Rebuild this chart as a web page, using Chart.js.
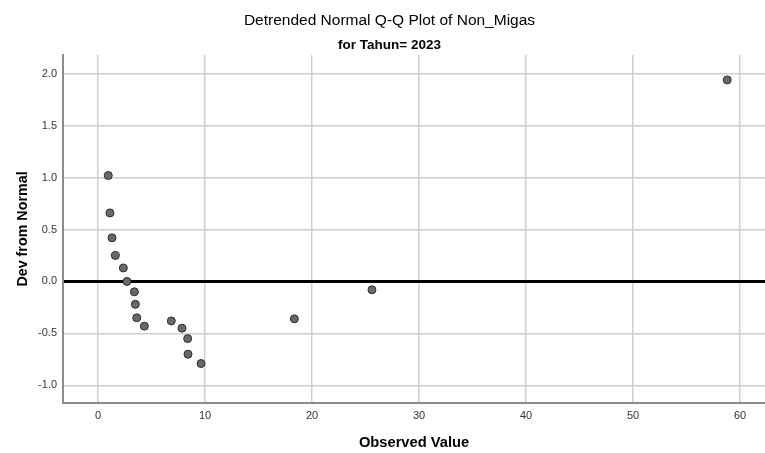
<!DOCTYPE html>
<html>
<head>
<meta charset="utf-8">
<title>Detrended Normal Q-Q Plot of Non_Migas</title>
<script src="https://cdn.jsdelivr.net/npm/chart.js@4/dist/chart.umd.min.js"></script>
<style>
    body { margin: 0; background: #fff; overflow: hidden; }
    #qqChart { display: block; }
</style>
</head>
<body>
<canvas id="qqChart" width="765" height="453"></canvas>
<script>
const observed = [0.96, 1.12, 1.31, 1.62, 2.37, 2.71, 3.40, 3.49, 3.62, 4.33,
    6.85, 7.85, 8.38, 8.41, 9.63, 18.35, 25.6, 58.8];
const devFromNormal = [1.02, 0.66, 0.42, 0.25, 0.13, 0.00, -0.10, -0.22, -0.35, -0.43,
    -0.38, -0.45, -0.55, -0.70, -0.79, -0.36, -0.08, 1.94];

// Tick labels
const xTicks = [0, 10, 20, 30, 40, 50, 60];
const yTicks = [-1.0, -0.5, 0.0, 0.5, 1.0, 1.5, 2.0];

const FONT = "'Liberation Sans', Arial, sans-serif";

function initializeChart() {
    const ctx = document.getElementById('qqChart');
    const points = observed.map((x, i) => ({ x: x, y: devFromNormal[i] }));

    new Chart(ctx, {
        type: 'scatter',
        data: {
            datasets: [{
                data: points,
                backgroundColor: '#696969',
                borderColor: '#2e2e2e',
                borderWidth: 1,
                pointRadius: 4,
                pointHoverRadius: 4
            }]
        },
        options: {
            responsive: false,
            animation: false,
            // plot area runs right up to the edge of the image
            layout: { padding: { left: 14, top: 0, right: 0, bottom: 0 }, autoPadding: false },
            plugins: {
                legend: { display: false },
                tooltip: { enabled: false },
                title: {
                    display: true,
                    text: 'Detrended Normal Q-Q Plot of Non_Migas',
                    color: '#000',
                    font: { family: FONT, size: 15.5, weight: 'normal', lineHeight: 1.2 },
                    padding: { top: 11, bottom: 8 }
                },
                subtitle: {
                    display: true,
                    text: 'for Tahun= 2023',
                    color: '#000',
                    font: { family: FONT, size: 13.5, weight: 'bold', lineHeight: 1.2 },
                    padding: { top: 0, bottom: 1.2 }
                }
            },
            scales: {
                x: {
                    type: 'linear',
                    min: -3.27,
                    max: 62.33,
                    afterBuildTicks: scale => { scale.ticks = xTicks.map(v => ({ value: v })); },
                    afterFit: scale => { scale.height = 50; },
                    grid: { color: '#d0d0d0', lineWidth: 1.5, drawTicks: false },
                    border: { display: true, color: '#8c8c8c', width: 2 },
                    ticks: {
                        color: '#333',
                        padding: 6,
                        font: { family: FONT, size: 11 },
                        callback: v => String(v)
                    },
                    title: {
                        display: true,
                        text: 'Observed Value',
                        color: '#000',
                        font: { family: FONT, size: 14.7, weight: 'bold', lineHeight: 1.2 },
                        padding: { top: 0, bottom: 1 }
                    }
                },
                y: {
                    type: 'linear',
                    min: -1.17,
                    max: 2.18,
                    afterBuildTicks: scale => { scale.ticks = yTicks.map(v => ({ value: v })); },
                    afterFit: scale => { scale.width = 49; },
                    grid: {
                        drawTicks: false,
                        color: c => (c.tick && c.tick.value === 0 ? '#000' : '#d0d0d0'),
                        lineWidth: c => (c.tick && c.tick.value === 0 ? 3 : 1.5)
                    },
                    border: { display: true, color: '#8c8c8c', width: 2 },
                    ticks: {
                        color: '#333',
                        padding: 6,
                        font: { family: FONT, size: 11 },
                        callback: v => Number(v).toFixed(1)
                    },
                    title: {
                        display: true,
                        text: 'Dev from Normal',
                        color: '#000',
                        font: { family: FONT, size: 14.3, weight: 'bold', lineHeight: 1.2 },
                        padding: { top: 0, bottom: 0 }
                    }
                }
            }
        }
    });
}

document.addEventListener('DOMContentLoaded', function() {
    initializeChart();
});
</script>
</body>
</html>
